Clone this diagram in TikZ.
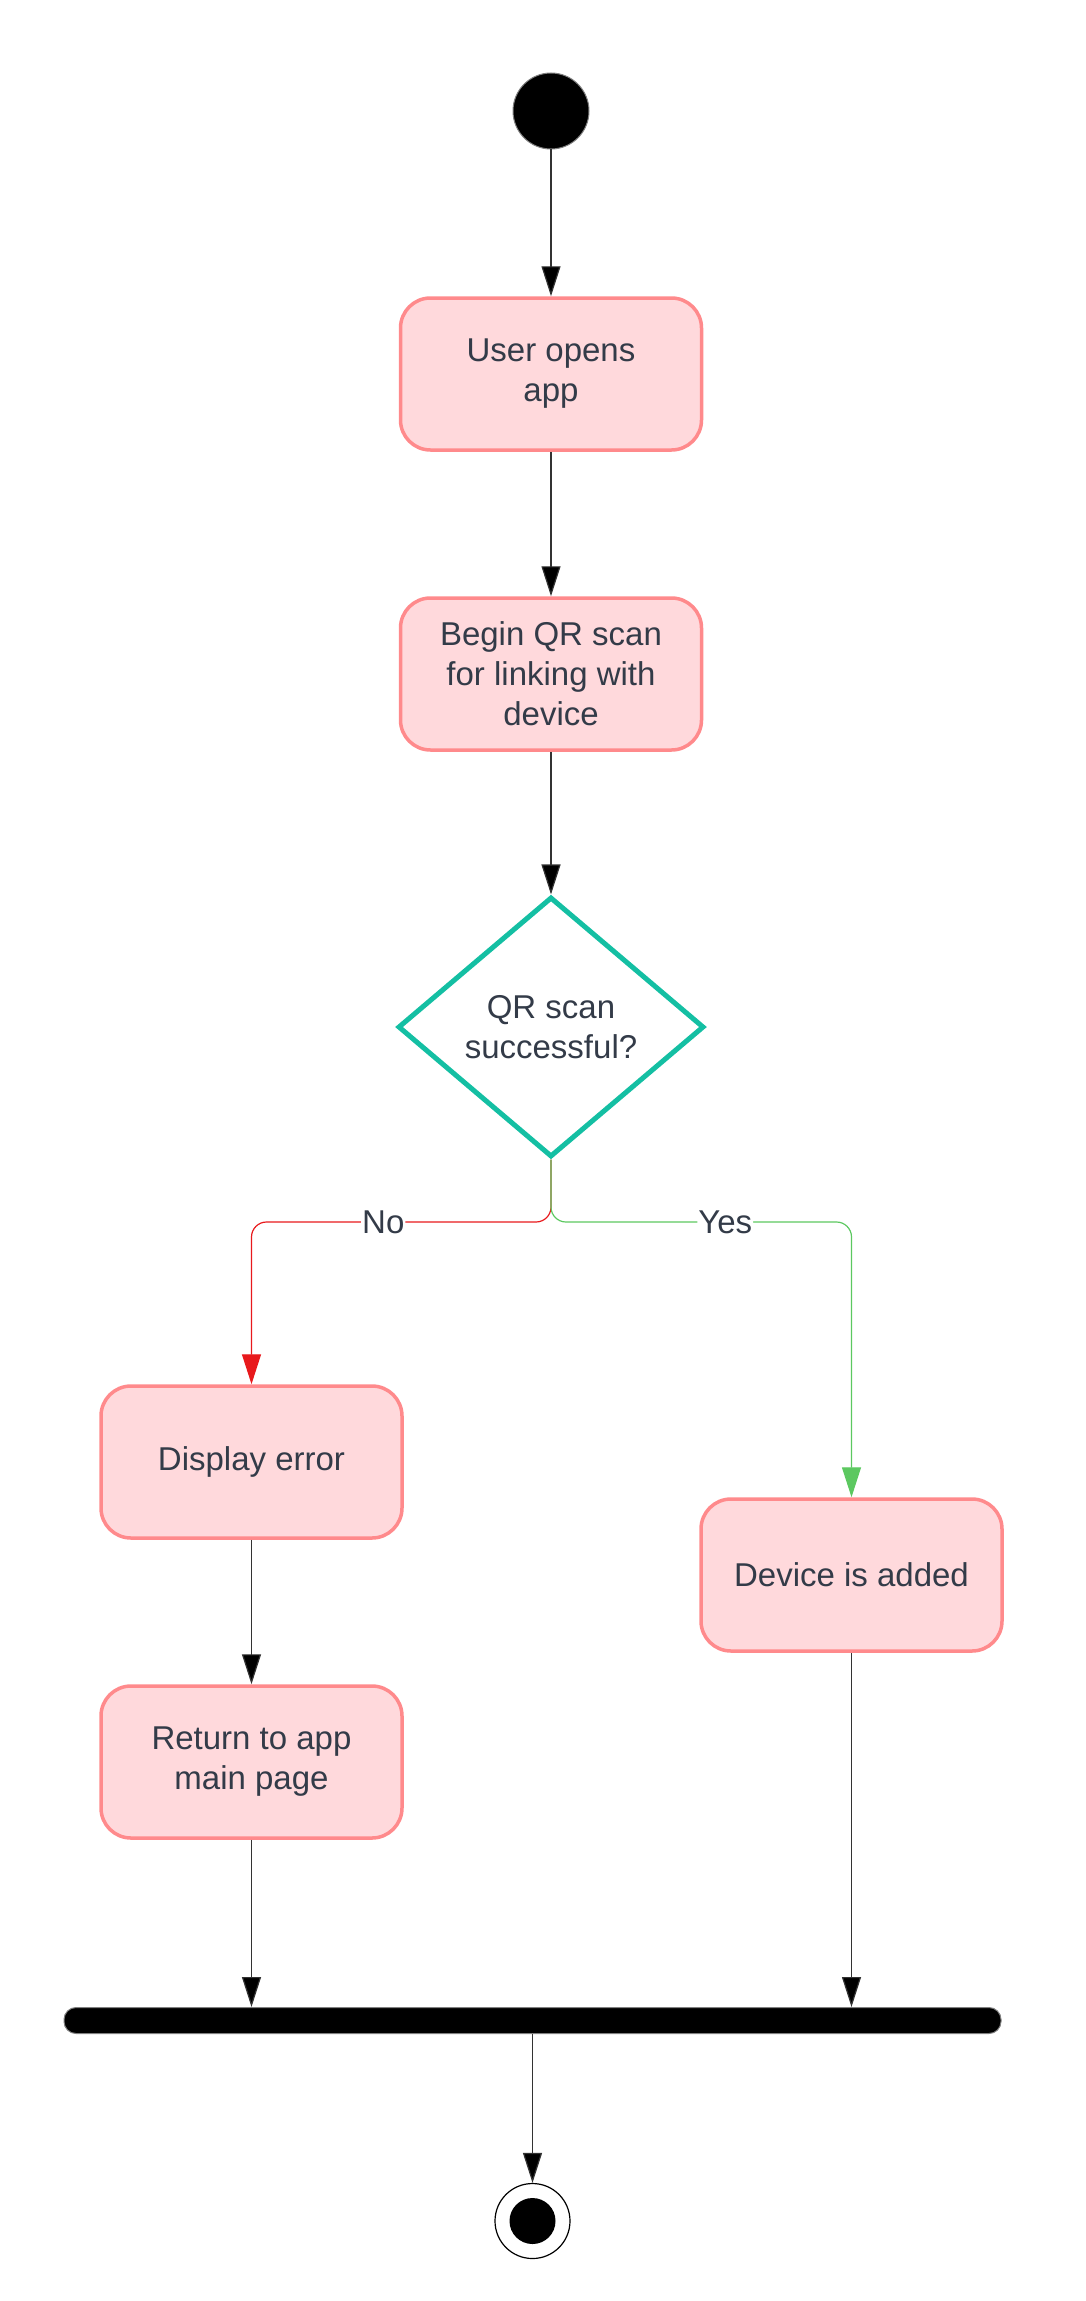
\documentclass[tikz,border=0pt]{standalone}
\usepackage{fontspec}
\setmainfont{Liberation Sans}
\usetikzlibrary{shapes.geometric,arrows.meta}
\definecolor{boxfill}{HTML}{FFD9DC}
\definecolor{boxline}{HTML}{FF8A8C}
\definecolor{decline}{HTML}{14BFA3}
\definecolor{noline}{HTML}{E8191C}
\definecolor{yesline}{HTML}{5CC860}
\definecolor{txt}{HTML}{333B48}
\definecolor{arr}{HTML}{333333}

\begin{document}
\begin{tikzpicture}[x=1pt,y=-1pt,
  act/.style={rectangle, rounded corners=30pt, draw=boxline, fill=boxfill, line width=3.5pt,
    minimum width=301pt, minimum height=152pt, align=center, text=txt, font=\fontsize{33}{40}\selectfont},
  flow/.style={draw=arr, line width=1.2pt, -{Triangle[width=19pt,length=30pt]}},
  lbl/.style={fill=white, inner sep=1pt, text=txt, font=\fontsize{33}{40}\selectfont}]
\useasboundingbox (0,0) rectangle (1086,2301);
\node[circle, draw=gray, fill=black, line width=1pt, minimum size=76pt, inner sep=0] (start) at (551,111) {};
\node[act] (open) at (551,374) {User opens\\app};
\node[act] (scan) at (551,674) {Begin QR scan\\for linking with\\device};
\node[diamond, draw=decline, line width=5pt, aspect=1.18, inner sep=0, minimum width=306pt, minimum height=260pt,
  align=center, text=txt, font=\fontsize{33}{40}\selectfont] (q) at (551,1027) {QR scan\\successful?};
\coordinate (split) at (551,1222);
\node[act] (err) at (251.5,1462) {Display error};
\node[act] (ret) at (251.5,1762) {Return to app\\main page};
\node[act] (added) at (851.5,1575) {Device is added};
\node[rectangle, rounded corners=12pt, fill=black, draw=gray, line width=1pt, minimum width=937pt,
  minimum height=26pt, inner sep=0] (bar) at (532.5,2020.5) {};
\node[circle, draw=black, line width=1.2pt, minimum size=75pt, inner sep=0,
  path picture={\fill[black] (path picture bounding box.center) circle (23pt);}] (end) at (532.5,2221) {};
\path[flow] (start) edge (open)
            (open) edge (scan)
            (scan) edge (q)
            (err) edge (ret)
            (ret) edge (ret |- bar.north)
            (added) edge (added |- bar.north)
            (bar) edge (end);
\draw[flow, draw=noline, rounded corners=15pt] (q.south) -- (split)
  -| node[lbl, pos=.28] {No} (err.north);
\draw[flow, draw=yesline, rounded corners=15pt] (q.south) -- (split)
  -| node[lbl, pos=.29] {Yes} (added.north);
\end{tikzpicture}
\end{document}
